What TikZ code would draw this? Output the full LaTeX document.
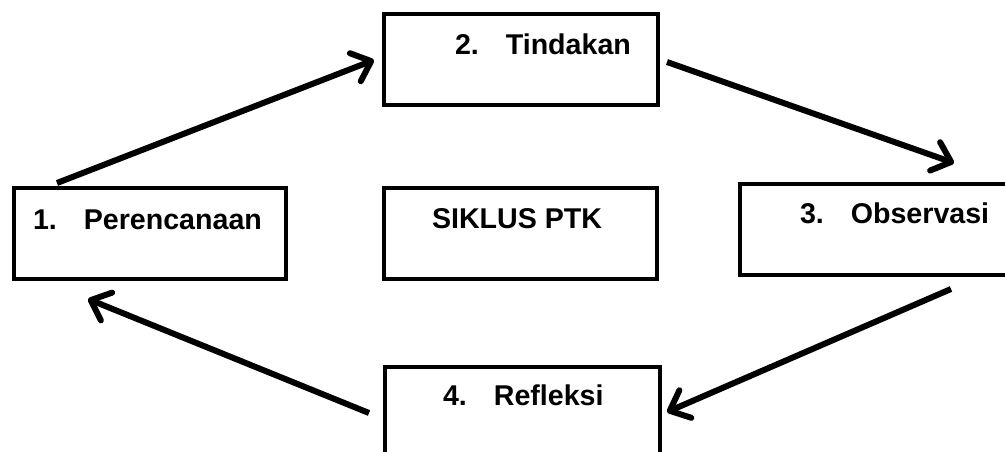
\documentclass[tikz,border=0pt]{standalone}
\usepackage{fontspec}
\setmainfont{Liberation Sans}
\usetikzlibrary{arrows.meta}
\begin{document}
\begin{tikzpicture}[x=1pt,y=-1pt,
  boxline/.style={draw=black,line width=4pt,line join=miter},
  lbl/.style={anchor=base west,inner sep=0pt,outer sep=0pt,font=\fontsize{28.6}{32}\selectfont\bfseries},
  cyc/.style={draw=black,line width=6pt,-{Straight Barb[length=17pt,width=30pt,line cap=round,line join=round]}}]
\clip (0,0) rectangle (1005,452);
\useasboundingbox (0,0) rectangle (1005,452);
\fill[white] (0,0) rectangle (1005,452);
% boxes
\node[boxline,minimum width=272pt,minimum height=91pt,inner sep=0pt] (b1) at (150,233.5) {};
\node[boxline,minimum width=274pt,minimum height=91pt,inner sep=0pt] (b2) at (521,59.5) {};
\node[boxline,minimum width=273pt,minimum height=91pt,inner sep=0pt] (bs) at (520.5,233.5) {};
\node[boxline,minimum width=272pt,minimum height=91pt,inner sep=0pt] (b3) at (876,229.5) {};
\node[boxline,minimum width=275pt,minimum height=93pt,inner sep=0pt] (b4) at (522.5,413.5) {};
% labels
\node[lbl] (t1) at (33,229) {1.\hspace{27pt}Perencanaan};
\node[lbl] (t2) at (455,55) {2.\hspace{27pt}Tindakan};
\node[lbl] (ts) at (432,228) {SIKLUS PTK};
\node[lbl] (t3) at (800,223) {3.\hspace{27pt}Observasi};
\node[lbl] (t4) at (443,405) {4.\hspace{27pt}Refleksi};
% arrow end points
\coordinate (a1s) at (57,183);
\coordinate (a1e) at (374,60);
\coordinate (a2s) at (667,62);
\coordinate (a2e) at (954,163);
\coordinate (a3s) at (951,289);
\coordinate (a3e) at (667,412);
\coordinate (a4s) at (369,413);
\coordinate (a4e) at (88,299);
\draw[cyc] (a1s) -- (a1e);
\draw[cyc] (a2s) -- (a2e);
\draw[cyc] (a3s) -- (a3e);
\draw[cyc] (a4s) -- (a4e);
\end{tikzpicture}
\end{document}
